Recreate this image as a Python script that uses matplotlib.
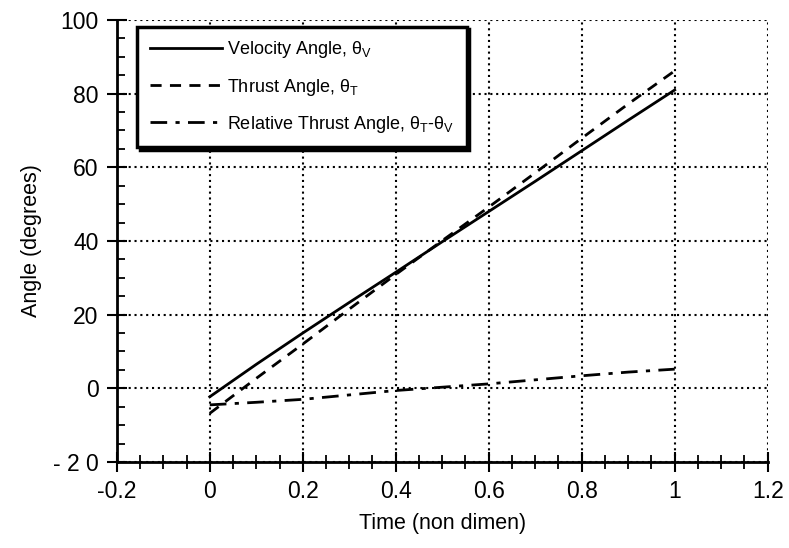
import matplotlib
matplotlib.use("Agg")
import matplotlib.pyplot as plt
from matplotlib.ticker import MultipleLocator, FixedFormatter, FixedLocator

plt.rcParams['font.family'] = ['Liberation Sans', 'DejaVu Sans']
plt.rcParams['mathtext.fontset'] = 'custom'
plt.rcParams['mathtext.rm'] = 'Liberation Sans'
plt.rcParams['mathtext.it'] = 'Liberation Sans'

# Time (non-dimensional) and angle histories
time = [0.0, 0.1, 0.2, 0.3, 0.4, 0.5, 0.6, 0.7, 0.8, 0.9, 1.0]
velocity_angle = [-2.3, 6.5, 15.0, 23.3, 31.5, 39.8, 48.0, 56.2, 64.5, 72.8, 81.0]
thrust_angle = [-6.8, 2.7, 12.0, 21.5, 30.9, 40.1, 49.2, 58.5, 67.9, 77.2, 86.2]
relative_angle = [-4.5, -3.8, -3.0, -1.8, -0.6, 0.3, 1.2, 2.3, 3.4, 4.4, 5.2]

x_ticks = [-0.2, 0, 0.2, 0.4, 0.6, 0.8, 1, 1.2]
x_tick_labels = ['-0.2', '0', '0.2', '0.4', '0.6', '0.8', '1', '1.2']
y_ticks = [-20, 0, 20, 40, 60, 80, 100]
y_tick_labels = ['- 2 0', '0', '20', '40', '60', '80', '100']

fig = plt.figure(figsize=(7.89, 5.48), dpi=100)
ax = fig.add_axes([0.148, 0.157, 0.825, 0.8065])

ax.plot(time, velocity_angle, color='black', lw=2.0, ls='-',
        label=r'Velocity Angle, $\theta_V$')
ax.plot(time, thrust_angle, color='black', lw=2.0, ls=(0, (4, 3)),
        label=r'Thrust Angle, $\theta_T$')
ax.plot(time, relative_angle, color='black', lw=2.0, ls=(0, (6, 3, 1.5, 3)),
        label=r'Relative Thrust Angle, $\theta_T$-$\theta_V$')

ax.set_xlim(-0.2, 1.2)
ax.set_ylim(-20, 100)

ax.xaxis.set_major_locator(FixedLocator(x_ticks))
ax.xaxis.set_major_formatter(FixedFormatter(x_tick_labels))
ax.yaxis.set_major_locator(FixedLocator(y_ticks))
ax.yaxis.set_major_formatter(FixedFormatter(y_tick_labels))
ax.xaxis.set_minor_locator(MultipleLocator(0.05))
ax.yaxis.set_minor_locator(MultipleLocator(5))

ax.tick_params(axis='both', which='major', direction='inout', length=14, width=1.5,
               labelsize=16.5, colors='black', pad=6)
ax.tick_params(axis='x', which='minor', direction='inout', length=10, width=1.3)
ax.tick_params(axis='y', which='minor', direction='in', length=6, width=1.3)

for side in ('top', 'right'):
    ax.spines[side].set_visible(False)
for side in ('left', 'bottom'):
    ax.spines[side].set_linewidth(2.0)

ax.grid(True, which='major', color='black', ls=(0, (1, 1.8)), lw=1.5)
ax.set_axisbelow(True)

ax.set_xlabel('Time (non dimen)', fontsize=15.5, labelpad=7)
ax.set_ylabel('Angle (degrees)', fontsize=15.5, labelpad=8)

leg = ax.legend(loc='upper left', bbox_to_anchor=(0.031, 0.985), fontsize=13,
                frameon=True, fancybox=False, shadow={'color': 'black', 'alpha': 1},
                handlelength=4.0, handletextpad=0.3, labelspacing=0.9,
                borderpad=0.7, borderaxespad=0)
leg.get_frame().set_edgecolor('black')
leg.get_frame().set_linewidth(2.5)
leg.get_frame().set_alpha(1)

fig.savefig('out.png', dpi=100)
